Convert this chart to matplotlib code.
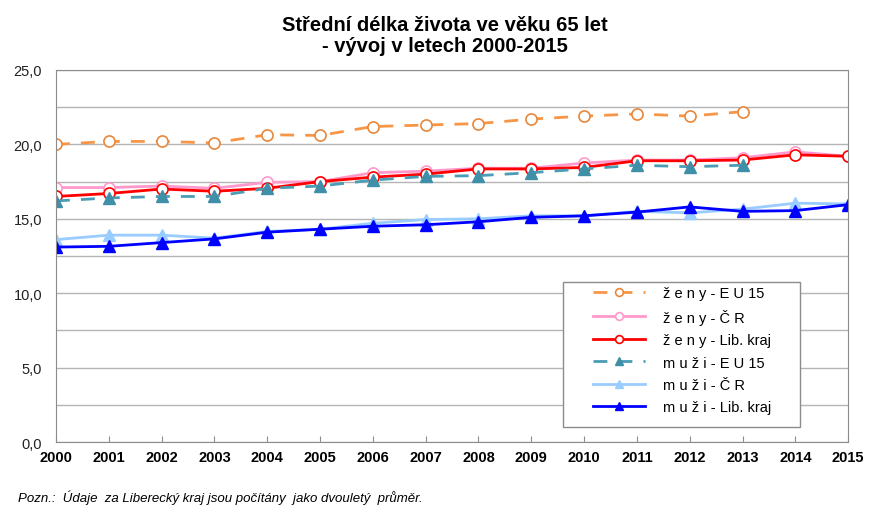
import numpy as np
import matplotlib
matplotlib.use('Agg')
import matplotlib.pyplot as plt
from matplotlib.patches import Rectangle

plt.rcParams['font.family'] = ['Liberation Sans', 'DejaVu Sans']

years = list(range(2000, 2016))

# hodnoty
zeny_eu15 = [20.0, 20.2, 20.2, 20.1, 20.65, 20.6, 21.2, 21.3, 21.4, 21.7, 21.9, 22.05, 21.9, 22.2]
zeny_cr = [17.1, 17.1, 17.2, 17.05, 17.45, 17.5, 18.1, 18.2, 18.4, 18.4, 18.75, 18.95, 18.95, 19.1, 19.5, 19.2]
zeny_lib = [16.5, 16.7, 17.0, 16.85, 17.05, 17.5, 17.8, 18.0, 18.35, 18.35, 18.45, 18.9, 18.9, 18.95, 19.3, 19.2]
muzi_eu15 = [16.2, 16.4, 16.5, 16.5, 17.05, 17.2, 17.6, 17.85, 17.9, 18.1, 18.35, 18.6, 18.5, 18.6]
muzi_cr = [13.6, 13.9, 13.9, 13.7, 14.15, 14.3, 14.7, 14.95, 15.0, 15.2, 15.2, 15.5, 15.4, 15.65, 16.05, 16.0]
muzi_lib = [13.1, 13.15, 13.4, 13.65, 14.1, 14.3, 14.5, 14.6, 14.8, 15.1, 15.2, 15.45, 15.8, 15.5, 15.55, 15.95]

fig = plt.figure(figsize=(8.69, 5.06), dpi=100)
ax = fig.add_axes([0.0644, 0.1245, 0.9116, 0.7352])

ax.plot(years[:len(zeny_eu15)], zeny_eu15, color='#F79646', ls=(0, (5, 4)), lw=2,
        marker='o', ms=8, mfc='white', mec='#E8873A', mew=1.2, label='ž e n y - E U 15')
ax.plot(years, zeny_cr, color='#FF99CC', lw=2,
        marker='o', ms=8, mfc='white', mec='#FF99CC', mew=1.2, label='ž e n y - Č R')
ax.plot(years, zeny_lib, color='#FF0000', lw=2,
        marker='o', ms=8, mfc='white', mec='#FF0000', mew=1.2, label='ž e n y - Lib. kraj')
ax.plot(years[:len(muzi_eu15)], muzi_eu15, color='#4A9DB5', ls=(0, (5, 4)), lw=2,
        marker='^', ms=8, mfc='#3F8FA8', mec='#3F8FA8', label='m u ž i - E U 15')
ax.plot(years, muzi_cr, color='#99CCFF', lw=2,
        marker='^', ms=8, mfc='#99CCFF', mec='#99CCFF', label='m u ž i - Č R')
ax.plot(years, muzi_lib, color='#0000FF', lw=2,
        marker='^', ms=8, mfc='#0000FF', mec='#0000FF', label='m u ž i - Lib. kraj')

ax.set_xlim(2000, 2015)
ax.set_ylim(0, 25)
ax.set_xticks(years)
ax.set_xticklabels([str(y) for y in years], fontweight='bold', fontsize=10.5,
                   family=['Liberation Sans Narrow', 'Liberation Sans'])
yt = np.arange(0, 25.1, 2.5)
ax.set_yticks(yt)
ax.set_yticklabels([('%.1f' % v).replace('.', ',') if v % 5 == 0 else '' for v in yt],
                   fontsize=10.5, color='#222222')
ax.yaxis.grid(True, color='#B4B4B4', lw=1)
ax.set_axisbelow(True)
for s in ax.spines.values():
    s.set_color('#8C8C8C')
ax.tick_params(axis='x', direction='in', length=4, color='#8C8C8C', pad=6)
ax.tick_params(axis='y', length=0, pad=10)

# rámeček legendy
ax.add_patch(Rectangle((0.640, 0.040), 0.299, 0.390, transform=ax.transAxes,
                       facecolor='white', edgecolor='#8C8C8C', lw=1, zorder=4))
leg = ax.legend(loc='upper left', bbox_to_anchor=(0.678, 0.419), fontsize=10.5,
                frameon=False, handlelength=3.56, labelspacing=0.58, borderpad=0,
                handletextpad=1.24, markerscale=0.7, borderaxespad=0)
leg.set_zorder(5)

fig.text(0.512, 0.968, 'Střední délka života ve věku 65 let\n- vývoj v letech 2000-2015',
         ha='center', va='top', fontsize=14.5, fontweight='bold', linespacing=1.1)
fig.text(0.021, 0.008, 'Pozn.:  Údaje  za Liberecký kraj jsou počítány  jako dvouletý  průměr.',
         fontsize=9.5, style='italic', family=['Liberation Sans Narrow', 'Liberation Sans'])

fig.savefig('out.png', dpi=100)
